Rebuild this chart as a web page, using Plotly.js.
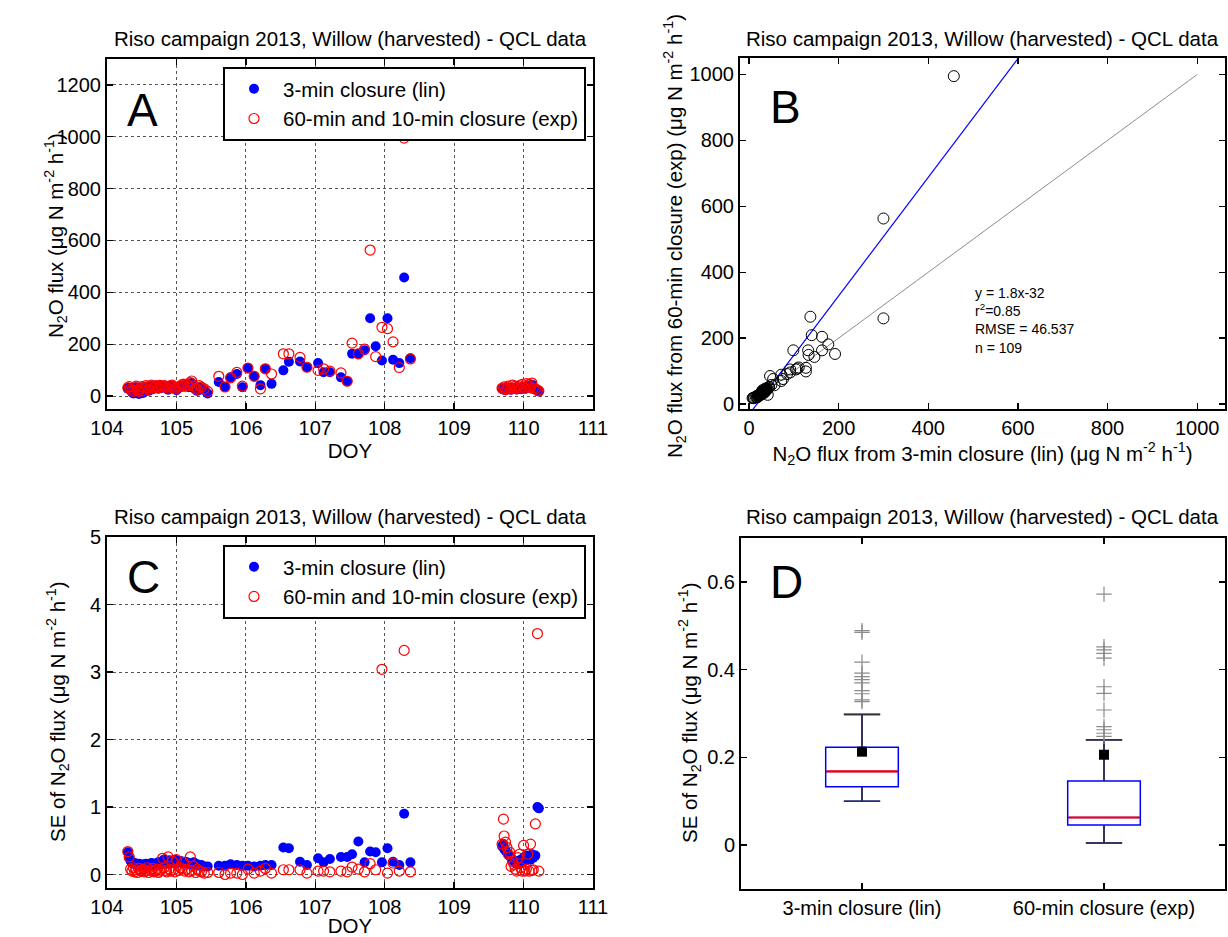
<!DOCTYPE html>
<html>
<head>
<meta charset="utf-8">
<script src="https://cdn.plot.ly/plotly-3.0.1.min.js"></script>
<style>html,body{margin:0;padding:0;background:#fff;}#chart{width:1228px;height:937px;}</style>
</head>
<body>
<div id="chart"></div>
<script>
// ---------- DATA ----------
const doy = [
  104.30,104.32,104.34,104.36,104.38,104.40,104.42,104.44,104.46,104.48,104.50,104.52,104.54,104.56,104.58,104.60,104.62,104.64,
  104.66,104.68,104.70,104.72,104.74,104.76,104.78,104.80,104.82,104.84,104.86,104.88,104.90,104.92,104.94,104.96,104.98,105.00,
  105.03,105.06,105.08,105.10,105.12,105.15,105.18,105.20,105.22,105.25,105.28,105.30,105.33,105.36,105.40,105.45,
  105.61,105.70,105.78,105.87,105.95,106.03,106.12,106.21,106.28,106.37,106.54,106.62,106.78,106.88,107.04,107.12,107.21,107.37,
  107.46,107.53,107.62,107.71,107.79,107.87,107.96,108.04,108.12,108.21,108.28,108.37,
  109.69,109.71,109.72,109.74,109.76,109.78,109.80,109.82,109.84,109.86,109.88,109.90,109.92,109.94,109.96,109.98,110.00,110.02,
  110.04,110.06,110.08,110.10,110.12,110.14,110.17,110.20,110.22
];
const fluxLin = [
  28,32,22,15,10,30,34,18,8,26,33,12,24,36,30,20,34,38,
  26,31,36,34,28,38,35,32,36,34,30,24,34,36,38,30,26,22,
  30,34,38,42,36,40,34,45,50,30,24,20,34,28,22,10,
  54,35,72,85,34,108,76,42,105,47,99,132,133,111,127,92,92,72,
  57,163,163,177,300,192,137,300,140,127,457,146,
  28,25,30,22,26,32,28,24,30,27,33,25,29,31,26,35,30,28,
  38,32,40,30,44,28,25,20,18
];
const fluxExp = [
  32,36,28,22,18,32,38,24,18,30,36,20,30,40,34,26,38,42,
  30,35,40,37,32,41,38,36,40,38,34,30,38,40,42,35,30,28,
  35,38,44,46,40,44,40,52,58,38,30,26,40,34,28,18,
  76,35,70,91,38,108,76,28,105,85,163,163,149,111,99,105,96,89,
  57,204,163,181,563,152,265,260,209,110,995,143,
  30,28,35,25,30,38,32,28,42,30,38,28,35,40,30,45,35,30,
  48,36,45,32,50,30,28,22,20
];
const seLin = [
  0.33,0.24,0.20,0.18,0.16,0.17,0.15,0.14,0.16,0.15,0.13,0.14,0.15,0.16,0.14,0.13,0.15,0.17,
  0.16,0.14,0.15,0.17,0.18,0.16,0.15,0.20,0.22,0.18,0.16,0.19,0.21,0.18,0.17,0.20,0.22,0.19,
  0.18,0.20,0.17,0.16,0.19,0.18,0.17,0.15,0.16,0.18,0.14,0.15,0.13,0.14,0.12,0.12,
  0.13,0.13,0.15,0.14,0.13,0.13,0.12,0.13,0.14,0.14,0.40,0.39,0.19,0.14,0.24,0.18,0.23,0.26,
  0.26,0.30,0.49,0.18,0.34,0.33,0.18,0.39,0.19,0.14,0.90,0.18,
  0.42,0.45,0.38,0.35,0.33,0.30,0.28,0.25,0.22,0.20,0.18,0.16,0.20,0.15,0.22,0.18,0.25,0.20,
  0.28,0.24,0.26,0.22,0.30,0.25,0.28,1.00,0.98
];
const seExp = [
  0.34,0.26,0.08,0.05,0.10,0.04,0.07,0.03,0.09,0.06,0.05,0.08,0.04,0.06,0.10,0.03,0.07,0.05,
  0.09,0.04,0.06,0.08,0.03,0.05,0.07,0.24,0.10,0.06,0.04,0.26,0.08,0.05,0.20,0.07,0.04,0.22,
  0.06,0.10,0.08,0.18,0.05,0.08,0.04,0.26,0.06,0.12,0.03,0.08,0.05,0.04,0.02,0.03,
  0.03,0.00,0.02,0.02,0.00,0.08,0.02,0.05,0.09,0.02,0.07,0.07,0.07,0.02,0.05,0.05,0.04,0.05,
  0.04,0.11,0.08,0.04,0.16,0.07,3.04,0.02,0.17,0.05,3.32,0.04,
  0.45,0.82,0.57,0.48,0.40,0.30,0.33,0.12,0.20,0.15,0.08,0.05,0.25,0.30,0.10,0.05,0.43,0.05,
  0.08,0.30,0.05,0.45,0.06,0.07,0.75,3.57,0.05
];
// regression shown in panel B
const fitSlope = 1.8, fitIntercept = -32;
const fitText = ['y = 1.8x-32', 'r<sup>2</sup>=0.85', 'RMSE = 46.537', 'n = 109'];
const refLineX = [0, 1000];
// panel D box statistics
const boxPos = [1, 2];
const boxLabels = ['3-min closure (lin)', '60-min closure (exp)'];
const boxQ1 = [0.133, 0.046];
const boxMedian = [0.168, 0.063];
const boxQ3 = [0.223, 0.146];
const boxLowWhisker = [0.100, 0.005];
const boxHighWhisker = [0.298, 0.240];
const boxMean = [0.213, 0.206];
const outliersLin = [0.489, 0.485, 0.417, 0.392, 0.384, 0.377, 0.370, 0.352, 0.345, 0.331, 0.327];
const outliersExp = [0.572, 0.452, 0.445, 0.437, 0.426, 0.361, 0.346, 0.308, 0.270, 0.263, 0.255, 0.248];

const titleText = 'Riso campaign 2013, Willow (harvested) - QCL data';
const nameLin = '3-min closure (lin)';
const nameExp = '60-min and 10-min closure (exp)';
const unit = '(μg N m<sup>-2</sup> h<sup>-1</sup>)';
const yTitleA = 'N<sub>2</sub>O flux ' + unit;
const yTitleB = 'N<sub>2</sub>O flux from 60-min closure (exp) ' + unit;
const xTitleB = 'N<sub>2</sub>O flux from 3-min closure (lin) ' + unit;
const yTitleSE = 'SE of N<sub>2</sub>O flux ' + unit;

// ---------- TRACES ----------
const BLUE = '#0000ff', RED = '#ff0000';
const traces = [];
// Panel A
traces.push({x: doy, y: fluxLin, xaxis:'x', yaxis:'y', type:'scatter', mode:'markers', name:nameLin,
  marker:{color:BLUE, size:10, symbol:'circle'}, legend:'legend'});
traces.push({x: doy, y: fluxExp, xaxis:'x', yaxis:'y', type:'scatter', mode:'markers', name:nameExp,
  marker:{color:RED, size:10, symbol:'circle-open', line:{width:1.2, color:RED}}, legend:'legend'});
// Panel B
traces.push({x: refLineX, y: refLineX, xaxis:'x2', yaxis:'y2', type:'scatter', mode:'lines',
  line:{color:'#8c8c8c', width:1}, showlegend:false});
traces.push({x: refLineX, y: refLineX.map(v => fitSlope*v + fitIntercept), xaxis:'x2', yaxis:'y2', type:'scatter', mode:'lines',
  line:{color:BLUE, width:1.2}, showlegend:false});
traces.push({x: fluxLin, y: fluxExp, xaxis:'x2', yaxis:'y2', type:'scatter', mode:'markers',
  marker:{color:'black', size:11, symbol:'circle-open', line:{width:1, color:'black'}}, showlegend:false});
// Panel C
traces.push({x: doy, y: seLin, xaxis:'x3', yaxis:'y3', type:'scatter', mode:'markers', name:nameLin,
  marker:{color:BLUE, size:10, symbol:'circle'}, legend:'legend2'});
traces.push({x: doy, y: seExp, xaxis:'x3', yaxis:'y3', type:'scatter', mode:'markers', name:nameExp,
  marker:{color:RED, size:10, symbol:'circle-open', line:{width:1.2, color:RED}}, legend:'legend2'});
// Panel D
const boxHalf = 0.15, capHalf = 0.075;
traces.push({type:'box', x: boxPos, q1: boxQ1, median: boxMedian, q3: boxQ3,
  lowerfence: boxLowWhisker, upperfence: boxHighWhisker, width: 2*boxHalf, whiskerwidth: 0.5,
  xaxis:'x4', yaxis:'y4', boxpoints:false, line:{color:BLUE, width:1.5}, fillcolor:'rgba(0,0,0,0)',
  showlegend:false, hoverinfo:'skip'});
// whiskers (dark) drawn from the statistics
const wx = [], wy = [];
boxPos.forEach((p, i) => {
  wx.push(p, p, null, p - capHalf, p + capHalf, null, p, p, null, p - capHalf, p + capHalf, null);
  wy.push(boxQ3[i], boxHighWhisker[i], null, boxHighWhisker[i], boxHighWhisker[i], null,
          boxLowWhisker[i], boxQ1[i], null, boxLowWhisker[i], boxLowWhisker[i], null);
});
traces.push({x: wx, y: wy, xaxis:'x4', yaxis:'y4', type:'scatter', mode:'lines',
  line:{color:'#333', width:1.6}, showlegend:false, connectgaps:false});
// medians (red)
const mx = [], my = [];
boxPos.forEach((p, i) => { mx.push(p - boxHalf + 0.004, p + boxHalf - 0.004, null); my.push(boxMedian[i], boxMedian[i], null); });
traces.push({x: mx, y: my, xaxis:'x4', yaxis:'y4', type:'scatter', mode:'lines',
  line:{color:RED, width:2.2}, showlegend:false});
// outliers
traces.push({x: outliersLin.map(() => boxPos[0]).concat(outliersExp.map(() => boxPos[1])),
  y: outliersLin.concat(outliersExp), xaxis:'x4', yaxis:'y4', type:'scatter', mode:'markers',
  marker:{symbol:'cross-thin-open', size:11, color:'#8c8c8c', line:{width:1.2, color:'#8c8c8c'}}, showlegend:false});
// means
traces.push({x: boxPos, y: boxMean, xaxis:'x4', yaxis:'y4', type:'scatter', mode:'markers',
  marker:{symbol:'square', size:10, color:'black'}, showlegend:false});

// ---------- LAYOUT ----------
const FONT = 'Liberation Sans, Arial, sans-serif';
const PW = 1228, PH = 937;
const px = v => v / PW, py = v => 1 - v / PH;
function ax(extra) {
  return Object.assign({
    showline:true, linecolor:'black', linewidth:2, mirror:'ticks', ticks:'inside', ticklen:6,
    tickwidth:1.3, tickcolor:'black', zeroline:false, showgrid:false,
    tickfont:{size:20, color:'black', family:FONT}, automargin:false
  }, extra);
}
const grid = {showgrid:true, gridcolor:'#555', gridwidth:1, griddash:'dot'};
const titleFont = {size:20.5, color:'black', family:FONT};
const axTitleFont = {size:20.5, color:'black', family:FONT};
const letterFont = {size:46, color:'black', family:FONT};

function note(text, x, y, font, extra) {
  return Object.assign({text:text, x:px(x), y:py(y), xref:'paper', yref:'paper', showarrow:false,
    xanchor:'center', yanchor:'middle', font:font}, extra || {});
}

const legendStyle = {xanchor:'left', yanchor:'top', bordercolor:'black', borderwidth:2,
  bgcolor:'white', font:{size:20.5, color:'black', family:FONT}, itemwidth:48, tracegroupgap:0};

const layout = {
  width: PW, height: PH, margin:{l:0, r:0, t:0, b:0},
  paper_bgcolor:'white', plot_bgcolor:'white',
  font:{family:FONT, color:'black'},
  xaxis: ax(Object.assign({domain:[px(107), px(593)], anchor:'y', range:[104, 111], dtick:1,
    title:{text:'DOY', font:axTitleFont, standoff:0}}, grid)),
  yaxis: ax(Object.assign({domain:[py(409), py(59)], anchor:'x', range:[-50, 1300], dtick:200}, grid)),
  xaxis2: ax({domain:[px(740), px(1225)], anchor:'y2', range:[-20, 1062], tickvals:[0,200,400,600,800,1000],
    title:{text:xTitleB, font:axTitleFont, standoff:0}}),
  yaxis2: ax({domain:[py(409), py(58)], anchor:'x2', range:[-15, 1050], tickvals:[0,200,400,600,800,1000]}),
  xaxis3: ax(Object.assign({domain:[px(107), px(593)], anchor:'y3', range:[104, 111], dtick:1,
    title:{text:'DOY', font:axTitleFont, standoff:0}}, grid)),
  yaxis3: ax(Object.assign({domain:[py(888), py(537)], anchor:'x3', range:[-0.2, 5], dtick:1}, grid)),
  xaxis4: ax({domain:[px(741), px(1225)], anchor:'y4', range:[0.5, 2.5], tickvals: boxPos, ticktext: boxLabels}),
  yaxis4: ax({domain:[py(889), py(538)], anchor:'x4', range:[-0.1, 0.7], tickvals:[0, 0.2, 0.4, 0.6], ticktext:['0','0.2','0.4','0.6']}),
  legend: Object.assign({x: px(223), y: py(67)}, legendStyle),
  legend2: Object.assign({x: px(223), y: py(545)}, legendStyle),
  annotations: [
    note(titleText, 350, 38, titleFont),
    note(titleText, 982, 38, titleFont),
    note(titleText, 350, 516, titleFont),
    note(titleText, 982, 516, titleFont),
    note(yTitleA, 55, 236, axTitleFont, {textangle:-90}),
    note(yTitleB, 674, 236, axTitleFont, {textangle:-90}),
    note(yTitleSE, 57, 712, axTitleFont, {textangle:-90}),
    note(yTitleSE, 689, 713, axTitleFont, {textangle:-90}),
    note('A', 142, 110, letterFont),
    note('B', 786, 107, letterFont),
    note('C', 143, 577, letterFont),
    note('D', 787, 582, letterFont),
    note(fitText.join('<br>'), 973, 283, {size:14, color:'black', family:FONT},
      {xanchor:'left', yanchor:'top', align:'left'})
  ]
};

Plotly.newPlot('chart', traces, layout, {staticPlot:true, displayModeBar:false});
</script>
</body>
</html>
